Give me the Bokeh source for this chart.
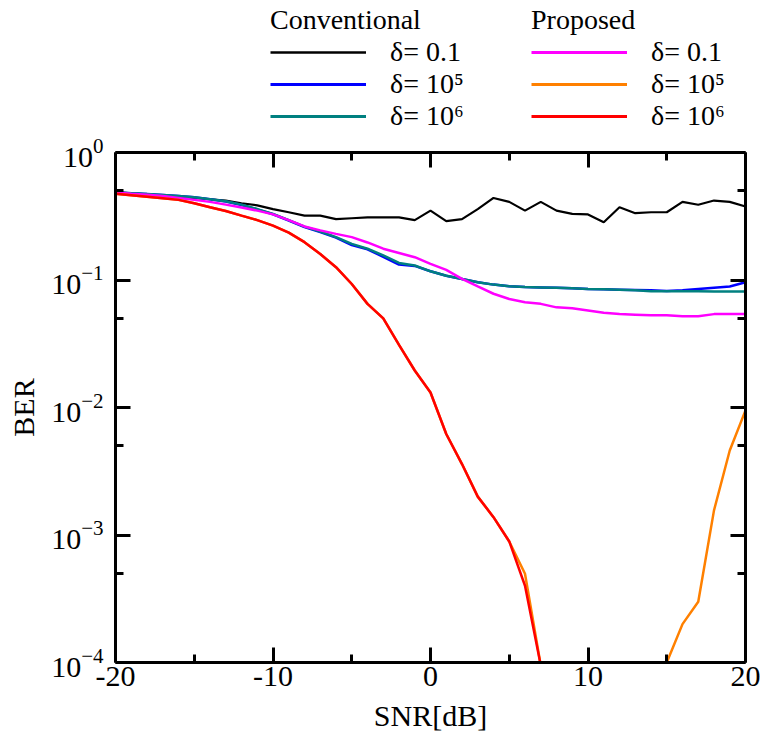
from bokeh.plotting import figure
from bokeh.layouts import column
from bokeh.models import (FixedTicker, LogAxis, LinearAxis, Legend, LegendItem,
                          Range1d, ColumnDataSource, CustomJSTickFormatter)
from bokeh.embed import file_html
from bokeh.resources import INLINE

nan = float("nan")

snr = list(range(-20, 21))

conv_d01 = [0.49, 0.478, 0.47, 0.46, 0.45, 0.44, 0.43, 0.42, 0.40, 0.385,
            0.36, 0.34, 0.32, 0.32, 0.30, 0.305, 0.31, 0.31, 0.31, 0.295,
            0.35, 0.29, 0.30, 0.36, 0.44, 0.41, 0.35, 0.41, 0.35, 0.33,
            0.327, 0.284, 0.372, 0.334, 0.34, 0.34, 0.41, 0.389, 0.42, 0.41, 0.377]

conv_d1e5 = [0.485, 0.48, 0.473, 0.465, 0.455, 0.445, 0.43, 0.413, 0.388, 0.358,
             0.328, 0.293, 0.26, 0.238, 0.215, 0.188, 0.174, 0.152, 0.132, 0.129,
             0.117, 0.108, 0.102, 0.096, 0.092, 0.0895, 0.088, 0.0875, 0.087, 0.086,
             0.085, 0.0845, 0.084, 0.0835, 0.083, 0.082, 0.083, 0.085, 0.087, 0.089, 0.096]

conv_d1e6 = [0.485, 0.48, 0.472, 0.465, 0.455, 0.445, 0.43, 0.415, 0.39, 0.36,
             0.33, 0.295, 0.262, 0.24, 0.217, 0.192, 0.176, 0.156, 0.136, 0.13,
             0.117, 0.108, 0.102, 0.096, 0.092, 0.0895, 0.088, 0.0875, 0.087, 0.086,
             0.085, 0.0845, 0.084, 0.083, 0.0817, 0.0815, 0.0815, 0.0815, 0.0813, 0.0813, 0.0813]

prop_d01 = [0.485, 0.475, 0.466, 0.455, 0.44, 0.425, 0.41, 0.39, 0.37, 0.35,
            0.327, 0.295, 0.263, 0.245, 0.23, 0.217, 0.197, 0.176, 0.163, 0.151,
            0.134, 0.12, 0.102, 0.089, 0.078, 0.071, 0.067, 0.065, 0.061, 0.06,
            0.0577, 0.0553, 0.054, 0.0535, 0.053, 0.053, 0.052, 0.052, 0.054, 0.054, 0.054]

prop_d1e6 = [0.474, 0.462, 0.45, 0.438, 0.425, 0.40, 0.372, 0.348, 0.32, 0.295,
             0.267, 0.235, 0.198, 0.16, 0.126, 0.093, 0.065, 0.05, 0.031, 0.0195,
             0.0131, 0.0062, 0.0036, 0.0020, 0.00138, 0.00089, 0.0004, 0.000095,
             nan, nan, nan, nan, nan, nan, nan, nan, nan, nan, nan, nan, nan]

prop_d1e5 = [0.474, 0.462, 0.45, 0.438, 0.425, 0.40, 0.372, 0.348, 0.32, 0.295,
             0.267, 0.235, 0.198, 0.16, 0.126, 0.093, 0.065, 0.05, 0.031, 0.0195,
             0.0131, 0.0062, 0.0036, 0.0020, 0.00138, 0.00089, 0.000496, 0.000095,
             nan, nan, nan, nan, nan, nan, nan, 0.0001, 0.0002, 0.0003, 0.00156, 0.0046, 0.0095]

y_ticks = [1e-4, 1e-3, 1e-2, 1e-1, 1.0]
y_minor = [5e-4, 5e-3, 5e-2, 5e-1]
x_ticks = [-20, -10, 0, 10, 20]
x_minor = [-15, -5, 5, 15]

legend_titles = ["Conventional", "Proposed"]
legend_labels = ["δ= 0.1", "δ= 10⁵", "δ= 10⁶"]

FONT = "Liberation Serif"
LEG_H = 132
LEFT = 115

p = figure(width=765, height=744 - LEG_H, y_axis_type="log",
           x_range=Range1d(-20, 20), y_range=Range1d(1e-4, 1.0),
           output_backend="svg", toolbar_location=None,
           min_border_left=LEFT, min_border_right=20,
           min_border_top=152 - LEG_H, min_border_bottom=82)
p.xgrid.visible = False
p.ygrid.visible = False
p.outline_line_color = None
p.background_fill_color = "white"
p.border_fill_color = "white"

def style_axis(ax, ticks, minor, show_labels):
    ax.ticker = FixedTicker(ticks=ticks, minor_ticks=minor)
    ax.axis_line_width = 3
    ax.axis_line_color = "black"
    ax.major_tick_in = 15
    ax.major_tick_out = 0
    ax.minor_tick_in = 8
    ax.minor_tick_out = 0
    ax.major_tick_line_width = 3
    ax.minor_tick_line_width = 3
    ax.major_tick_line_color = "black"
    ax.minor_tick_line_color = "black"
    ax.major_label_text_font = FONT
    ax.major_label_text_color = "black"
    if show_labels:
        ax.major_label_text_font_size = "30px"
    else:
        ax.major_label_text_font_size = "2px"
        ax.formatter = CustomJSTickFormatter(code="return ''")
        ax.major_label_standoff = 0

style_axis(p.xaxis[0], x_ticks, x_minor, True)
style_axis(p.yaxis[0], y_ticks, y_minor, True)
p.xaxis[0].formatter = CustomJSTickFormatter(code="return tick.toString()")
p.xaxis[0].major_label_standoff = 4
p.yaxis[0].major_label_standoff = 12

for ax, lab in ((p.xaxis[0], "SNR[dB]"), (p.yaxis[0], "BER")):
    ax.axis_label = lab
    ax.axis_label_text_font = FONT
    ax.axis_label_text_font_size = "30px"
    ax.axis_label_text_font_style = "normal"
    ax.axis_label_text_color = "black"
p.xaxis[0].axis_label_standoff = 10
p.yaxis[0].axis_label_standoff = 8

top_ax = LinearAxis()
style_axis(top_ax, x_ticks, x_minor, False)
p.add_layout(top_ax, "above")
right_ax = LogAxis()
style_axis(right_ax, y_ticks, y_minor, False)
p.add_layout(right_ax, "right")

series = [
    ("conv01", conv_d01, "#000000", 2.2),
    ("conv5", conv_d1e5, "#0000ff", 2.5),
    ("conv6", conv_d1e6, "#008080", 2.5),
    ("prop01", prop_d01, "#ff00ff", 2.5),
    ("prop5", prop_d1e5, "#ff8000", 2.5),
    ("prop6", prop_d1e6, "#ff0000", 2.5),
]
for name, ys, col, lw in series:
    src = ColumnDataSource(dict(x=snr, y=ys))
    p.line("x", "y", source=src, line_color=col, line_width=lw)

# legend panel above the plot (same colours as the data lines)
lp = figure(width=765, height=LEG_H, x_range=Range1d(0, 1), y_range=Range1d(0, 1),
            x_axis_type=None, y_axis_type=None, output_backend="svg",
            toolbar_location=None, min_border=0)
lp.xgrid.visible = False
lp.ygrid.visible = False
lp.outline_line_color = None
lp.border_fill_color = "white"
lp.background_fill_color = "white"

def make_legend(title, group, loc):
    items = []
    for lab, (name, ys, col, lw) in zip(legend_labels, group):
        # proxy renderer kept outside the (hidden) range, only used for the legend swatch
        r = lp.line(x=[5, 6], y=[5, 6], line_color=col, line_width=lw + 0.5)
        items.append(LegendItem(label=lab, renderers=[r]))
    lg = Legend(items=items, location=loc, title=title)
    lg.title_text_font = FONT
    lg.title_text_font_size = "28px"
    lg.title_text_font_style = "normal"
    lg.title_text_color = "black"
    lg.title_standoff = 0
    lg.label_text_font = FONT
    lg.label_text_font_size = "28px"
    lg.label_text_color = "black"
    lg.glyph_width = 96
    lg.glyph_height = 30
    lg.label_standoff = 24
    lg.label_height = 30
    lg.spacing = -1
    lg.padding = 0
    lg.margin = 0
    lg.border_line_alpha = 0
    lg.background_fill_alpha = 0
    return lg

lp.add_layout(make_legend(legend_titles[0], series[:3], (270 - LEFT, LEG_H - 132)), "center")
lp.add_layout(make_legend(legend_titles[1], series[3:], (531 - LEFT, LEG_H - 132)), "center")

layout = column(lp, p, spacing=0)
open("out.html", "w").write(file_html(layout, INLINE))
